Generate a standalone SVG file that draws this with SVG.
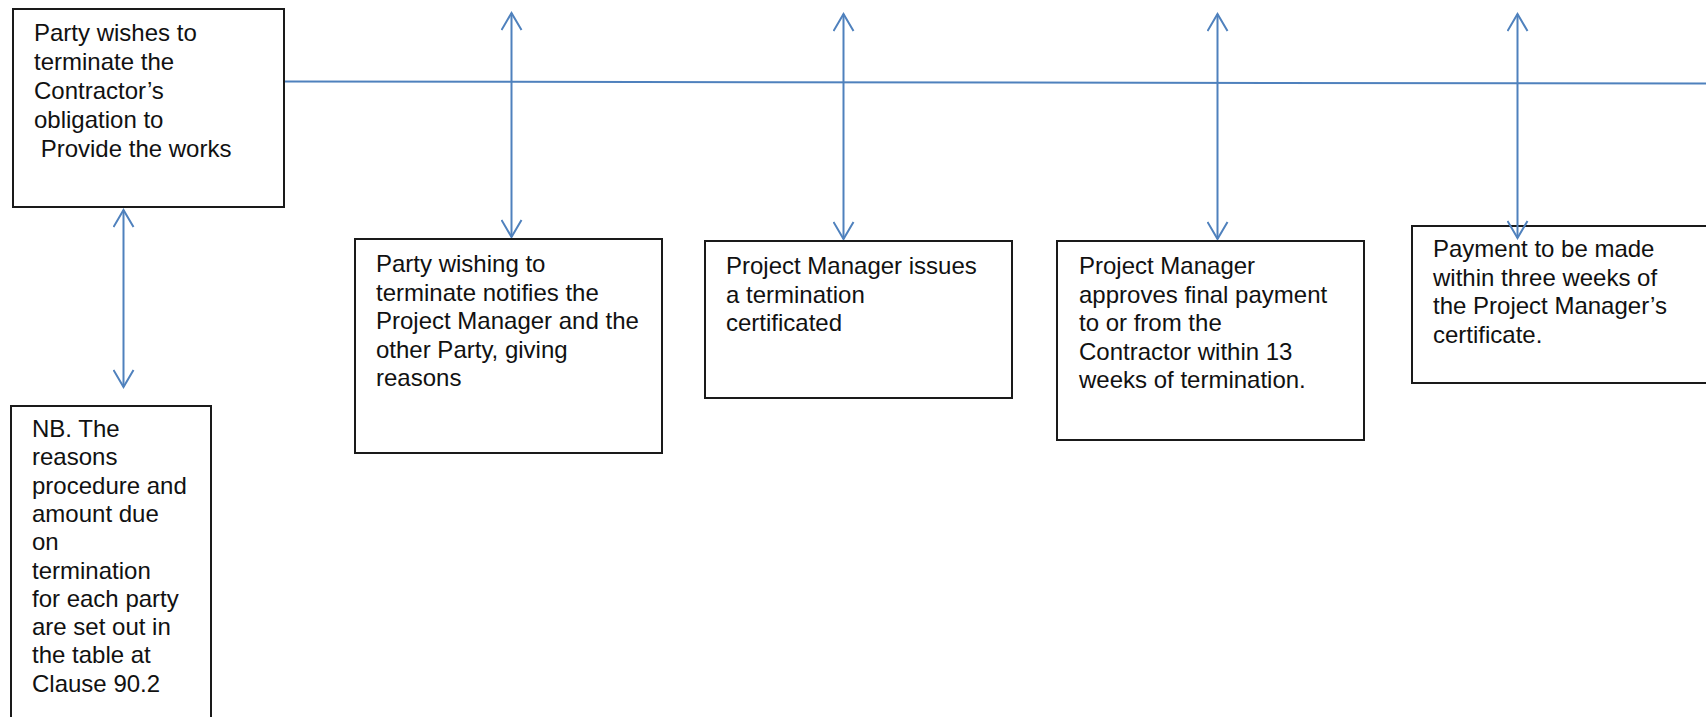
<svg xmlns="http://www.w3.org/2000/svg" width="1706" height="717" viewBox="0 0 1706 717">
<style>
.box{fill:#ffffff;stroke:#1a1a1a;stroke-width:2}
.t{font-family:"Liberation Sans",Arial,sans-serif;font-size:24px;fill:#111111}
.c{stroke:#4f81bd;stroke-width:2;fill:none}
</style>
<defs>
<marker id="ah" viewBox="-19 -11 21 22" markerWidth="21" markerHeight="22" refX="0" refY="0" markerUnits="userSpaceOnUse" orient="auto-start-reverse">
<path d="M-17,-10 L0,0 L-17,10" fill="none" stroke="#4f81bd" stroke-width="2"/>
</marker>
</defs>
<rect width="1706" height="717" fill="#ffffff"/>
<g id="connectors">
<line class="c" x1="284" y1="81.5" x2="1706" y2="83.5"/>
<line class="c" x1="123.5" y1="210" x2="123.5" y2="387" marker-start="url(#ah)" marker-end="url(#ah)"/>
<line class="c" x1="511.5" y1="13" x2="511.5" y2="237" marker-start="url(#ah)" marker-end="url(#ah)"/>
<line class="c" x1="843.5" y1="14" x2="843.5" y2="239" marker-start="url(#ah)" marker-end="url(#ah)"/>
<line class="c" x1="1217.5" y1="14" x2="1217.5" y2="239" marker-start="url(#ah)" marker-end="url(#ah)"/>
</g>
<g id="n1">
<rect class="box" x="13" y="9" width="271" height="198"/>
<text class="t" x="34" y="41">Party wishes to</text>
<text class="t" x="34" y="70">terminate the</text>
<text class="t" x="34" y="99">Contractor’s</text>
<text class="t" x="34" y="128">obligation to</text>
<text class="t" x="34" y="157" xml:space="preserve"> Provide the works</text>
</g>
<g id="n2">
<rect class="box" x="11" y="406" width="200" height="330"/>
<text class="t" x="32" y="437">NB. The</text>
<text class="t" x="32" y="465.3">reasons</text>
<text class="t" x="32" y="493.6">procedure and</text>
<text class="t" x="32" y="521.9">amount due</text>
<text class="t" x="32" y="550.2">on</text>
<text class="t" x="32" y="578.5">termination</text>
<text class="t" x="32" y="606.8">for each party</text>
<text class="t" x="32" y="635.1">are set out in</text>
<text class="t" x="32" y="663.4">the table at</text>
<text class="t" x="32" y="691.7">Clause 90.2</text>
</g>
<g id="n3">
<rect class="box" x="355" y="239" width="307" height="214"/>
<text class="t" x="376" y="272">Party wishing to</text>
<text class="t" x="376" y="300.5">terminate notifies the</text>
<text class="t" x="376" y="329">Project Manager and the</text>
<text class="t" x="376" y="357.5">other Party, giving</text>
<text class="t" x="376" y="386">reasons</text>
</g>
<g id="n4">
<rect class="box" x="705" y="241" width="307" height="157"/>
<text class="t" x="726" y="274">Project Manager issues</text>
<text class="t" x="726" y="302.5">a termination</text>
<text class="t" x="726" y="331">certificated</text>
</g>
<g id="n5">
<rect class="box" x="1057" y="241" width="307" height="199"/>
<text class="t" x="1079" y="274">Project Manager</text>
<text class="t" x="1079" y="302.5">approves final payment</text>
<text class="t" x="1079" y="331">to or from the</text>
<text class="t" x="1079" y="359.5">Contractor within 13</text>
<text class="t" x="1079" y="388">weeks of termination.</text>
</g>
<g id="n6">
<rect class="box" x="1412" y="226" width="310" height="157"/>
<text class="t" x="1433" y="257">Payment to be made</text>
<text class="t" x="1433" y="285.7">within three weeks of</text>
<text class="t" x="1433" y="314.4">the Project Manager’s</text>
<text class="t" x="1433" y="343.1">certificate.</text>
</g>
<g id="arrow5">
<line class="c" x1="1517.5" y1="14" x2="1517.5" y2="238" marker-start="url(#ah)" marker-end="url(#ah)"/>
</g>
</svg>
